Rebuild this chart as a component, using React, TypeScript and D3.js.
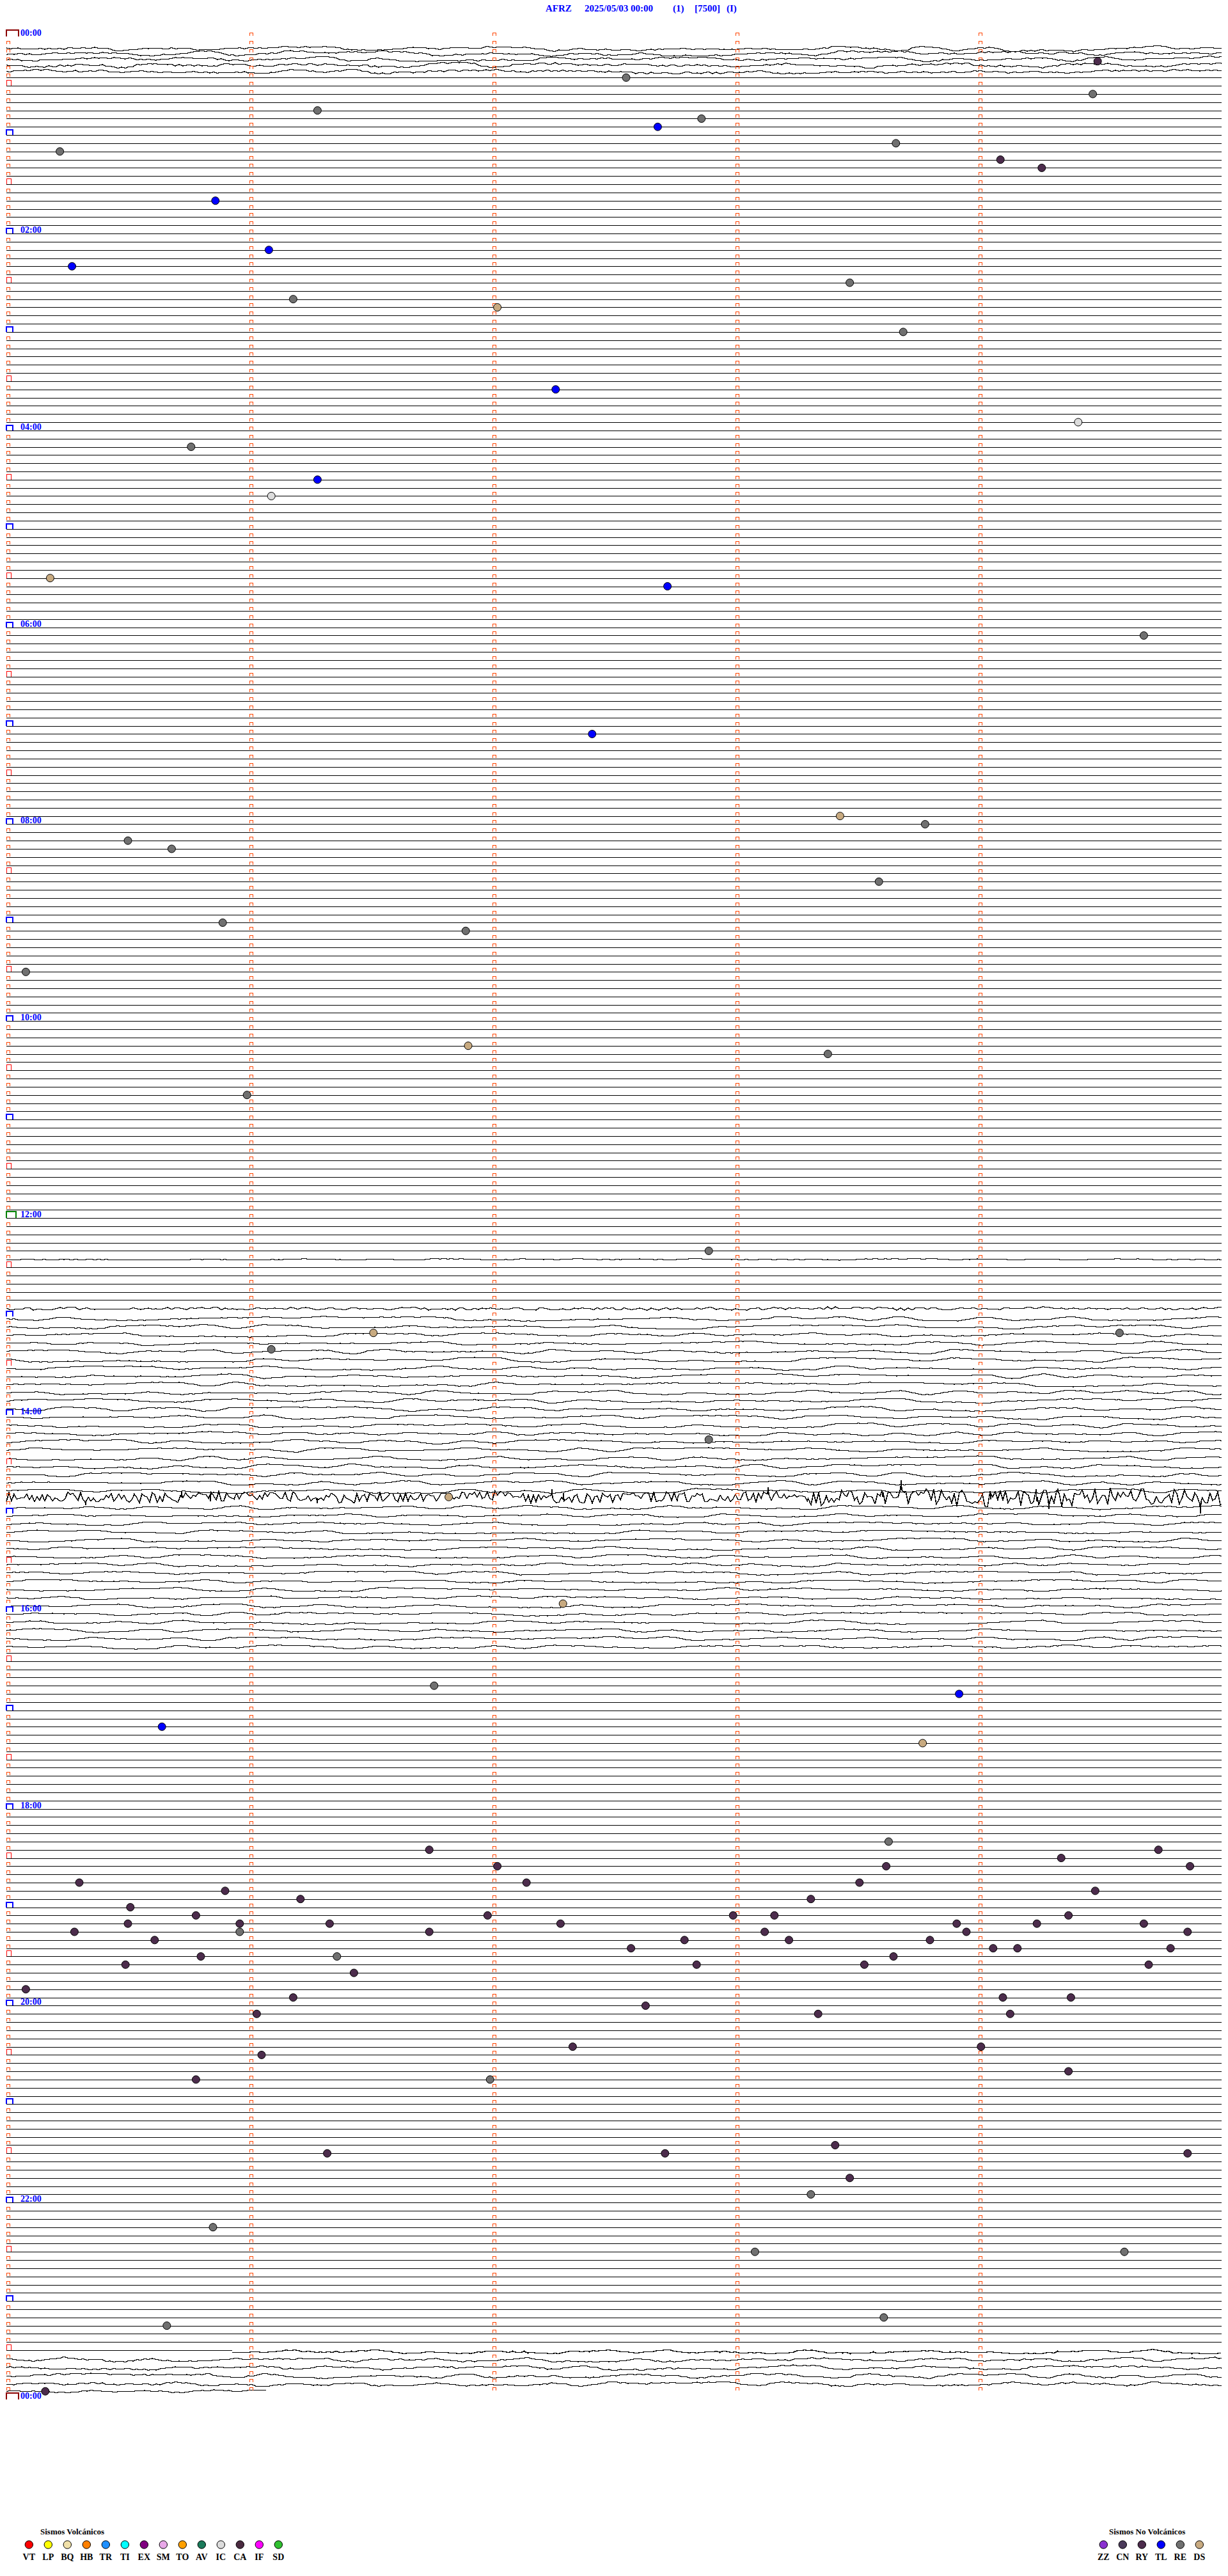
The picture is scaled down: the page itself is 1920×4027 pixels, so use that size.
import React from 'react';
import * as d3 from 'd3';

// ---------- data ----------
const TITLE_PARTS = ['AFRZ', '2025/05/03 00:00', '(1)', '[7500]', '(I)'];
const TITLE_X = [853, 914, 1052, 1086, 1136];

const LINES_PER_DAY = 288; // 5-minute lines
const MINUTES_PER_LINE = 5;
const MINUTE_TICKS = [0, 1, 2, 3, 4];
const HOUR_LABELS = ['00:00', '02:00', '04:00', '06:00', '08:00', '10:00', '12:00', '14:00', '16:00', '18:00', '20:00', '22:00', '00:00'];

// events: minute of day and type code
const EVENT_MINUTES = [
  19.49, 27.55, 39.47, 46.28, 52.86, 57.68, 68.66, 70.22, 79.09, 84.26, 100.86, 131.08, 140.27, 153.47, 161.18,
  167.02, 183.69, 217.26, 239.41, 250.76, 271.28, 281.09, 330.18, 337.72, 369.68, 427.41, 478.43, 483.78, 490.5,
  495.68, 518.59, 540.89, 546.89, 570.08, 616.9, 623.38, 645.99, 742.89, 791.51, 794.58, 801.09, 857.89, 891.82,
  957.29, 1006.76, 1013.92, 1030.64, 1043.77,
  1103.63, 1106.74, 1109.74, 1114.34, 1117.02, 1118.62, 1119.87, 1125.3, 1127.14, 1128.51, 1130.9, 1134.48,
  1136.21, 1138.31, 1140.51, 1145.78, 1146.98, 1147.99, 1148.16, 1149.37, 1150.5, 1150.96, 1151.33, 1152.28,
  1153.91, 1154.24, 1154.68, 1155.28, 1155.96, 1156.74, 1158.12, 1158.95, 1159.86, 1160.61, 1162.79, 1163.22,
  1163.8, 1167.57, 1169.06, 1169.16, 1169.79, 1170.8, 1171.36, 1173.65, 1175.49, 1177.84, 1178.53, 1179.7,
  1181.43, 1190.08, 1196.18, 1199.1, 1199.38, 1202.63, 1206.03, 1208.34, 1209.13, 1227.33, 1229.01, 1231.05,
  1244.37, 1245.78, 1246.99, 1288.41, 1291.32, 1292.71, 1294.86, 1308.47, 1318.31, 1335.85, 1353.08, 1354.6,
  1393.61, 1395.66, 1435.16,
];
const EVENT_TYPES = [
  'RY', 'RE', 'RE', 'RE', 'RE', 'TL', 'RE', 'RE', 'RY', 'RY', 'TL', 'TL', 'TL', 'RE', 'RE',
  'DS', 'RE', 'TL', 'IC', 'RE', 'TL', 'IC', 'DS', 'TL', 'RE', 'TL', 'DS', 'RE', 'RE',
  'RE', 'RE', 'RE', 'RE', 'RE', 'DS', 'RE', 'RE', 'RE', 'DS', 'RE', 'RE', 'RE', 'DS',
  'DS', 'RE', 'TL', 'TL', 'DS',
  'RE', 'RY', 'RY', 'RY', 'RY', 'RY', 'RY', 'RY', 'RY', 'RY', 'RY', 'RY',
  'RY', 'RY', 'RY', 'RY', 'RY', 'RY', 'RY', 'RY', 'RY', 'RY', 'RY', 'RY',
  'RY', 'RY', 'RY', 'RY', 'RE', 'RY', 'RY', 'RY', 'RY', 'RY', 'RY', 'RY',
  'RY', 'RY', 'RY', 'RY', 'RY', 'RY', 'RE', 'RY', 'RY', 'RY', 'RY', 'RY',
  'RY', 'RY', 'RY', 'RY', 'RY', 'RY', 'RY', 'RY', 'RY', 'RY', 'RY', 'RY',
  'RY', 'RY', 'RE', 'RY', 'RY', 'RY', 'RY', 'RY', 'RE', 'RE', 'RE', 'RE',
  'RE', 'RE', 'RY',
];

// noisy trace sections (line range + minute range)
const NOISE_FIRST_LINE = [0, 1, 2, 3, 4, 149, 155, 156, 178, 178, 179, 282, 283, 287];
const NOISE_LAST_LINE = [0, 1, 2, 3, 4, 149, 155, 177, 178, 178, 196, 282, 286, 287];
const NOISE_WANDER = [4, 4, 4, 4, 3, 1, 1, 3.5, 2, 2, 3, 3, 3.5, 3];
const NOISE_JITTER = [1.2, 1.2, 1.2, 1.5, 1.5, 0.5, 2, 0.6, 8, 13, 0.6, 1, 1.2, 1];
const NOISE_OFFSET = [18, 13, 9, 6, 3, 0, 0, 3, 0, 0, 3, 2, 1, 0];
const NOISE_START_MIN = [0, 0, 0, 0, 0, 0, 0, 0, 0, 3.3, 0, 0.93, 0, 0];
const NOISE_END_MIN = [5, 5, 5, 5, 5, 5, 5, 5, 3.3, 5, 5, 5, 5, 1.07];

const VOLC_CODES = ['VT', 'LP', 'BQ', 'HB', 'TR', 'TI', 'EX', 'SM', 'TO', 'AV', 'IC', 'CA', 'IF', 'SD'];
const VOLC_COLORS = ['#ff0000', '#ffff00', '#f0e0a8', '#ff8000', '#1e8fff', '#00ffff', '#800080', '#e8a8e8', '#ffa000', '#1a7a5a', '#dcdcdc', '#4a2a40', '#ff00ff', '#30c030'];
const NONVOLC_CODES = ['ZZ', 'CN', 'RY', 'TL', 'RE', 'DS'];
const NONVOLC_COLORS = ['#8a30d0', '#4a3a5a', '#4c2c4c', '#0000ff', '#707070', '#c8aa80'];

// ---------- layout ----------
const W = 1920;
const H = 4027;
const X0 = 10;
const X1 = 1910;
const Y0 = 57.2;
const DY = 12.826;

const xScale = d3.scaleLinear().domain([0, MINUTES_PER_LINE]).range([X0, X1]);
const yScale = d3.scaleLinear().domain([0, LINES_PER_DAY]).range([Y0, Y0 + DY * LINES_PER_DAY]);

const colorOf: Record<string, string> = {};
VOLC_CODES.forEach((c, i) => (colorOf[c] = VOLC_COLORS[i]));
NONVOLC_CODES.forEach((c, i) => (colorOf[c] = NONVOLC_COLORS[i]));

function noisyPath(seedKey: number, line: number, w: number, j: number, off: number, m0: number, m1: number): string {
  const rnd = d3.randomLcg(((seedKey * 7919 + 13) % 10007) / 10007);
  const xa = xScale(m0);
  const xb = xScale(m1);
  const base = yScale(line) + off;
  const slowStep = 45;
  const medStep = j > 4 ? 4 : 6;
  const nSlow = Math.ceil((xb - xa) / slowStep) + 2;
  const nMed = Math.ceil((xb - xa) / medStep) + 2;
  const slow = Array.from({ length: nSlow }, () => (rnd() * 2 - 1) * w);
  const med = Array.from({ length: nMed }, () => (rnd() * 2 - 1) * j);
  slow[0] = slow[0] * 0.3;
  const pts: [number, number][] = [];
  for (let x = xa; x <= xb; x += 1) {
    const s = (x - xa) / slowStep;
    const si = Math.floor(s);
    const sf = s - si;
    const sv = slow[si] + (slow[si + 1] - slow[si]) * (0.5 - 0.5 * Math.cos(Math.PI * sf));
    const m = (x - xa) / medStep;
    const mi = Math.floor(m);
    const mf = m - mi;
    const mv = med[mi] + (med[mi + 1] - med[mi]) * mf;
    let y = base + sv + mv;
    if (j > 4 && rnd() < 0.012) y += (rnd() * 2 - 1) * j * 1.5;
    pts.push([x, Math.round(y) + 0.5]);
  }
  return d3.line()(pts) || '';
}

function buildTraces() {
  const noisy = new Map<number, number[]>();
  NOISE_FIRST_LINE.forEach((f, k) => {
    for (let l = f; l <= NOISE_LAST_LINE[k]; l++) {
      if (!noisy.has(l)) noisy.set(l, []);
      noisy.get(l)!.push(k);
    }
  });
  const flat: number[] = [];
  const paths: string[] = [];
  for (let l = 0; l < LINES_PER_DAY; l++) {
    const ks = noisy.get(l);
    if (ks === undefined) {
      flat.push(l);
    } else {
      ks.forEach((k) => {
        const m0 = NOISE_START_MIN[k];
        const m1 = NOISE_END_MIN[k];
        if (m0 > 0 && k > 0 && NOISE_FIRST_LINE[k - 1] !== l) {
          const y = Math.round(yScale(l)) + 0.5;
          paths.push(`M${xScale(0)},${y}H${xScale(m0)}`);
        }
        paths.push(noisyPath(l * 3 + k, l, NOISE_WANDER[k], NOISE_JITTER[k], NOISE_OFFSET[k], m0, m1));
      });
    }
  }
  return { flat, paths };
}

const TRACES = buildTraces();

function Marker({ l, m }: { l: number; m: number }) {
  const y = Math.round(yScale(l));
  const x = Math.round(xScale(m));
  if (m === 0) {
    if (l === 0 || l === LINES_PER_DAY) {
      return <path d={`M${x},${y}V${y - 10}H${x + 19}V${y}`} fill="none" stroke="#8b0000" strokeWidth={2} />;
    }
    if (l === 144) {
      return <path d={`M${x},${y}V${y - 10}H${x + 15}V${y}`} fill="none" stroke="#008000" strokeWidth={2} />;
    }
    if (l % 12 === 0) {
      return <path d={`M${x},${y}V${y - 8}H${x + 10}V${y}`} fill="none" stroke="#0000ff" strokeWidth={2} />;
    }
    if (l % 6 === 0) {
      return <path d={`M${x + 0.5},${y}V${y - 8.5}H${x + 7.5}V${y}`} fill="none" stroke="#ff0000" strokeWidth={1} />;
    }
  }
  if (l === LINES_PER_DAY) return null;
  return <path d={`M${x + 0.5},${y - 1}V${y - 5.5}H${x + 5.5}V${y - 1}`} fill="none" stroke="#ff4500" strokeWidth={1} />;
}

export default function App() {
  const markers: JSX.Element[] = [];
  for (let l = 0; l <= LINES_PER_DAY; l++) {
    for (const m of MINUTE_TICKS) {
      if (l === LINES_PER_DAY && m > 0) continue;
      markers.push(<Marker key={`m${l}-${m}`} l={l} m={m} />);
    }
  }
  const serif = '"Liberation Serif", "Times New Roman", serif';
  return (
    <svg
      width={W}
      height={H}
      viewBox={`0 0 ${W} ${H}`}
      style={{ position: 'absolute', left: 0, top: 0, display: 'block', background: '#fff' }}
    >
      <rect x={0} y={0} width={W} height={H} fill="#fff" />
      {/* title */}
      {TITLE_PARTS.map((t, i) => (
        <text key={t} x={TITLE_X[i]} y={18} fontFamily={serif} fontWeight="bold" fontSize={15} fill="#0000ff">
          {t}
        </text>
      ))}
      {/* flat traces */}
      <g stroke="#000" strokeWidth={1} fill="none" shapeRendering="crispEdges">
        {TRACES.flat.map((l) => {
          const y = Math.round(yScale(l)) + 0.5;
          return <line key={l} x1={xScale(0)} x2={xScale(MINUTES_PER_LINE)} y1={y} y2={y} />;
        })}
      </g>
      <g stroke="#000" strokeWidth={1.6} fill="none" shapeRendering="crispEdges">
        {TRACES.paths.map((d, i) => (
          <path key={i} d={d} />
        ))}
      </g>
      {/* minute markers */}
      <g shapeRendering="crispEdges">{markers}</g>
      {/* hour labels */}
      {HOUR_LABELS.map((lab, i) => (
        <text key={i} x={32} y={yScale(i * 24) - 1} fontFamily={serif} fontWeight="bold" fontSize={14} fill="#0000ff">
          {lab}
        </text>
      ))}
      {/* events */}
      <g stroke="#000" strokeWidth={1}>
        {EVENT_MINUTES.map((t, i) => {
          const line = Math.floor(t / MINUTES_PER_LINE);
          const m = t - line * MINUTES_PER_LINE;
          return <circle key={i} cx={xScale(m)} cy={yScale(line)} r={6} fill={colorOf[EVENT_TYPES[i]]} />;
        })}
      </g>
      {/* legends */}
      <text x={63} y={3962} fontFamily={serif} fontWeight="bold" fontSize={13} fill="#000">
        Sismos Volcánicos
      </text>
      {VOLC_CODES.map((c, i) => (
        <g key={c}>
          <circle cx={45.3 + i * 30} cy={3978} r={6.2} fill={VOLC_COLORS[i]} stroke="#000" strokeWidth={1} />
          <text x={45.3 + i * 30} y={4002} textAnchor="middle" fontFamily={serif} fontWeight="bold" fontSize={14} fill="#000">
            {c}
          </text>
        </g>
      ))}
      <text x={1734} y={3962} fontFamily={serif} fontWeight="bold" fontSize={13} fill="#000">
        Sismos No Volcánicos
      </text>
      {NONVOLC_CODES.map((c, i) => (
        <g key={c}>
          <circle cx={1725.3 + i * 30} cy={3978} r={6.2} fill={NONVOLC_COLORS[i]} stroke="#000" strokeWidth={1} />
          <text x={1725.3 + i * 30} y={4002} textAnchor="middle" fontFamily={serif} fontWeight="bold" fontSize={14} fill="#000">
            {c}
          </text>
        </g>
      ))}
    </svg>
  );
}
